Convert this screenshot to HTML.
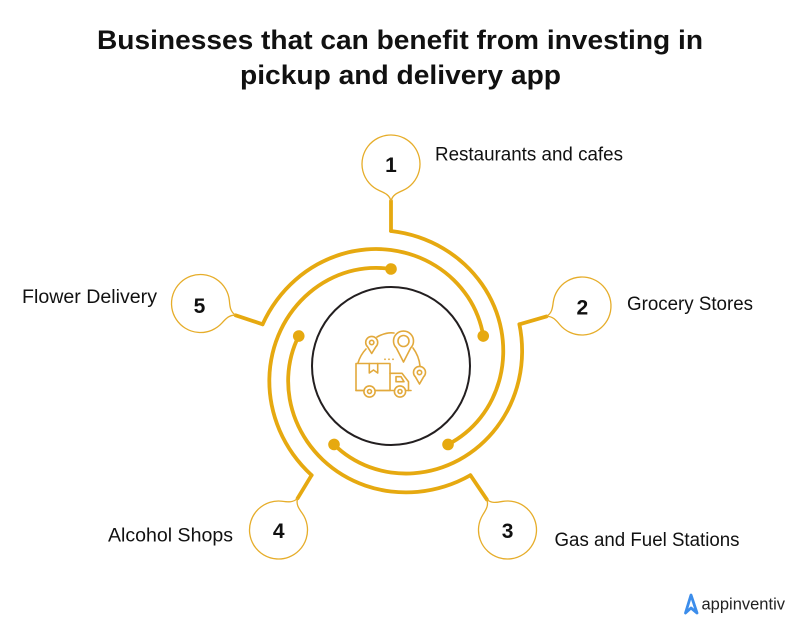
<!DOCTYPE html>
<html>
<head>
<meta charset="utf-8">
<style>
html,body{margin:0;padding:0;background:#fff;}
svg{display:block;}
</style>
</head>
<body>
<svg width="800" height="634" viewBox="0 0 800 634" xmlns="http://www.w3.org/2000/svg">
<rect width="800" height="634" fill="#ffffff"/>

<!-- Title -->
<g font-family="Liberation Sans, Arial, sans-serif" font-weight="bold" font-size="27" fill="#111">
  <text x="97" y="49" textLength="606" lengthAdjust="spacingAndGlyphs">Businesses that can benefit from investing in</text>
  <text x="240" y="84" textLength="321" lengthAdjust="spacingAndGlyphs">pickup and delivery app</text>
</g>

<!-- Spiral arms -->
<g transform="translate(391 366)" fill="none" stroke="#E6A910" stroke-width="3.8" stroke-linecap="round" stroke-linejoin="round">
  <g id="arm0">
    <path d="M0,-135 A133.4 133.4 0 0 1 27.41,-128.95 A130.3 130.3 0 0 1 52.33,-117.54 A127.1 127.1 0 0 1 73.77,-101.53 A123.9 123.9 0 0 1 90.91,-81.85 A120.8 120.8 0 0 1 103.2,-59.58 A117.6 117.6 0 0 1 110.33,-35.85 A114.4 114.4 0 0 1 112.21,-11.79 A111.3 111.3 0 0 1 109.07,11.46 A108.1 108.1 0 0 1 101.29,32.91 A104.9 104.9 0 0 1 89.49,51.67 A101.8 101.8 0 0 1 74.44,67.02 A98.6 98.6 0 0 1 57.02,78.47"/>
    <circle cx="57.02" cy="78.47" r="5.8" fill="#E6A910" stroke="none"/>
  </g>
  <g transform="rotate(72)">
    <path d="M0,-135 A133.4 133.4 0 0 1 27.41,-128.95 A130.3 130.3 0 0 1 52.33,-117.54 A127.1 127.1 0 0 1 73.77,-101.53 A123.9 123.9 0 0 1 90.91,-81.85 A120.8 120.8 0 0 1 103.2,-59.58 A117.6 117.6 0 0 1 110.33,-35.85 A114.4 114.4 0 0 1 112.21,-11.79 A111.3 111.3 0 0 1 109.07,11.46 A108.1 108.1 0 0 1 101.29,32.91 A104.9 104.9 0 0 1 89.49,51.67 A101.8 101.8 0 0 1 74.44,67.02 A98.6 98.6 0 0 1 57.02,78.47"/>
    <circle cx="57.02" cy="78.47" r="5.8" fill="#E6A910" stroke="none"/>
  </g>
  <g transform="rotate(144)">
    <path d="M0,-135 A133.4 133.4 0 0 1 27.41,-128.95 A130.3 130.3 0 0 1 52.33,-117.54 A127.1 127.1 0 0 1 73.77,-101.53 A123.9 123.9 0 0 1 90.91,-81.85 A120.8 120.8 0 0 1 103.2,-59.58 A117.6 117.6 0 0 1 110.33,-35.85 A114.4 114.4 0 0 1 112.21,-11.79 A111.3 111.3 0 0 1 109.07,11.46 A108.1 108.1 0 0 1 101.29,32.91 A104.9 104.9 0 0 1 89.49,51.67 A101.8 101.8 0 0 1 74.44,67.02 A98.6 98.6 0 0 1 57.02,78.47"/>
    <circle cx="57.02" cy="78.47" r="5.8" fill="#E6A910" stroke="none"/>
  </g>
  <g transform="rotate(216)">
    <path d="M0,-135 A133.4 133.4 0 0 1 27.41,-128.95 A130.3 130.3 0 0 1 52.33,-117.54 A127.1 127.1 0 0 1 73.77,-101.53 A123.9 123.9 0 0 1 90.91,-81.85 A120.8 120.8 0 0 1 103.2,-59.58 A117.6 117.6 0 0 1 110.33,-35.85 A114.4 114.4 0 0 1 112.21,-11.79 A111.3 111.3 0 0 1 109.07,11.46 A108.1 108.1 0 0 1 101.29,32.91 A104.9 104.9 0 0 1 89.49,51.67 A101.8 101.8 0 0 1 74.44,67.02 A98.6 98.6 0 0 1 57.02,78.47"/>
    <circle cx="57.02" cy="78.47" r="5.8" fill="#E6A910" stroke="none"/>
  </g>
  <g transform="rotate(288)">
    <path d="M0,-135 A133.4 133.4 0 0 1 27.41,-128.95 A130.3 130.3 0 0 1 52.33,-117.54 A127.1 127.1 0 0 1 73.77,-101.53 A123.9 123.9 0 0 1 90.91,-81.85 A120.8 120.8 0 0 1 103.2,-59.58 A117.6 117.6 0 0 1 110.33,-35.85 A114.4 114.4 0 0 1 112.21,-11.79 A111.3 111.3 0 0 1 109.07,11.46 A108.1 108.1 0 0 1 101.29,32.91 A104.9 104.9 0 0 1 89.49,51.67 A101.8 101.8 0 0 1 74.44,67.02 A98.6 98.6 0 0 1 57.02,78.47"/>
    <circle cx="57.02" cy="78.47" r="5.8" fill="#E6A910" stroke="none"/>
  </g>
</g>

<!-- Connectors from bubbles to arms -->
<g fill="none" stroke="#E6A910" stroke-width="3.8" stroke-linecap="round" stroke-linejoin="round">
  <path d="M391,201 L391,231"/>
  <path d="M546.5,316.4 L519.4,324.3"/>
  <path d="M486.8,499.4 L470.4,475.2"/>
  <path d="M297.6,498.3 L311.6,475.2"/>
  <path d="M235.6,315.3 L262.6,324.3"/>
</g>

<!-- Bubbles -->
<g fill="#fff" stroke="#E6AD2A" stroke-width="1.3">
  <path transform="translate(391 164)" d="M-11.8,26.5 A29 29 0 1 1 11.8,26.5 C6,29 1.5,31 0,37 C-1.5,31 -6,29 -11.8,26.5 Z"/>
  <path transform="translate(582 306) rotate(73.7)" d="M-11.8,26.5 A29 29 0 1 1 11.8,26.5 C6,29 1.5,31 0,37 C-1.5,31 -6,29 -11.8,26.5 Z"/>
  <path transform="translate(507.5 530) rotate(145.9)" d="M-11.8,26.5 A29 29 0 1 1 11.8,26.5 C6,29 1.5,31 0,37 C-1.5,31 -6,29 -11.8,26.5 Z"/>
  <path transform="translate(278.5 530) rotate(-148.9)" d="M-11.8,26.5 A29 29 0 1 1 11.8,26.5 C6,29 1.5,31 0,37 C-1.5,31 -6,29 -11.8,26.5 Z"/>
  <path transform="translate(200.5 303.5) rotate(-71.5)" d="M-11.8,26.5 A29 29 0 1 1 11.8,26.5 C6,29 1.5,31 0,37 C-1.5,31 -6,29 -11.8,26.5 Z"/>
</g>

<!-- Numbers -->
<g font-family="Liberation Sans, Arial, sans-serif" font-weight="bold" font-size="21" fill="#111" text-anchor="middle">
  <text x="391" y="172">1</text>
  <text x="582.3" y="314.5">2</text>
  <text x="507.6" y="538">3</text>
  <text x="278.7" y="538">4</text>
  <text x="199.5" y="313">5</text>
</g>

<!-- Labels -->
<g font-family="Liberation Sans, Arial, sans-serif" font-size="19" fill="#111">
  <text x="435" y="160.7" textLength="188" lengthAdjust="spacingAndGlyphs">Restaurants and cafes</text>
  <text x="627" y="310" textLength="126" lengthAdjust="spacingAndGlyphs">Grocery Stores</text>
  <text x="22" y="303" textLength="135" lengthAdjust="spacingAndGlyphs">Flower Delivery</text>
  <text x="108" y="541.7" textLength="125" lengthAdjust="spacingAndGlyphs">Alcohol Shops</text>
  <text x="554.5" y="546" textLength="185" lengthAdjust="spacingAndGlyphs">Gas and Fuel Stations</text>
</g>

<!-- Center circle -->
<circle cx="391" cy="366" r="79" fill="#fff" stroke="#231f20" stroke-width="2"/>

<!-- Center icon -->
<g fill="none" stroke="#E2A93C" stroke-width="1.6" stroke-linecap="round" stroke-linejoin="round">
  <!-- globe arcs -->
  <path d="M358,363 A34 34 0 0 1 366,349"/>
  <path d="M377,337 Q386,332 394,333"/>
  <path d="M413,348 Q419,356 420,366"/>
  <!-- big pin -->
  <path d="M403.5,362 L396.4,348.1 A10 10 0 1 1 410.6,348.1 Z" fill="#fff"/>
  <circle cx="403.5" cy="341" r="5.5"/>
  <!-- left pin -->
  <path d="M371.7,353.5 L367.5,346.7 A6 6 0 1 1 375.9,346.7 Z" fill="#fff"/>
  <circle cx="371.7" cy="342.5" r="2.2"/>
  <!-- right pin -->
  <path d="M419.5,384 L415.3,376.7 A6 6 0 1 1 423.7,376.7 Z" fill="#fff"/>
  <circle cx="419.5" cy="372.5" r="2.2"/>
  <!-- box -->
  <rect x="356" y="363.5" width="34" height="27" fill="#fff"/>
  <path d="M369.3,363.5 V373 L373.5,370 L377.7,373 V363.5"/>
  <!-- cab -->
  <path d="M390,373.3 H402 L408.5,381.7 V390.5"/>
  <path d="M396,376.7 H401 L404,381.7 H396 Z"/>
  <!-- chassis -->
  <path d="M356,390.5 H411"/>
  <!-- wheels -->
  <circle cx="369.5" cy="391.5" r="5.6" fill="#fff"/>
  <circle cx="369.5" cy="391.5" r="2"/>
  <circle cx="400" cy="391.5" r="5.6" fill="#fff"/>
  <circle cx="400" cy="391.5" r="2"/>
</g>
<g fill="#E2A93C">
  <circle cx="385" cy="359.3" r="0.9"/>
  <circle cx="389" cy="359.3" r="0.9"/>
  <circle cx="393" cy="359.3" r="0.9"/>
</g>

<!-- Logo -->
<path d="M685.5,613 L691,595 L697,613 L691,608 Z" fill="none" stroke="#3C8DEB" stroke-width="2.8" stroke-linejoin="round"/>
<text x="701.5" y="609.3" font-family="Liberation Sans, Arial, sans-serif" font-size="16.5" fill="#222" textLength="83.5" lengthAdjust="spacingAndGlyphs">appinventiv</text>
</svg>
</body>
</html>
